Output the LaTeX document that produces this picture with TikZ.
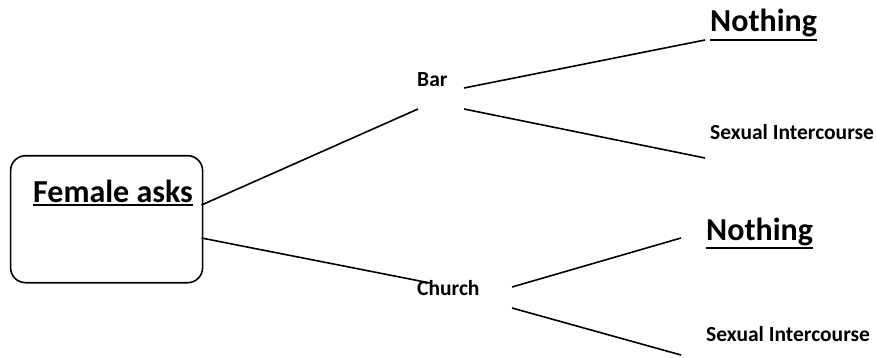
\documentclass[tikz,border=0pt]{standalone}
\usepackage{fontspec}
\setmainfont{Carlito}
\newcommand\myul[1]{\leavevmode\vtop{\hbox{#1}\kern1.5pt\hrule height 2.4pt}}
\begin{document}
\begin{tikzpicture}[x=1pt,y=1pt,
  lbl/.style={inner sep=0pt,anchor=base west,font=\bfseries\fontsize{21.5}{23}\selectfont},
  big/.style={inner sep=0pt,anchor=base west,font=\bfseries\fontsize{32}{34}\selectfont},
  conn/.style={line width=1.6pt,black}]
\useasboundingbox (0,0) rectangle (876,357);
\node[draw,line width=1.6pt,rounded corners=15pt,minimum width=192pt,minimum height=127pt,anchor=south west,inner sep=0pt] (box) at (9.8,73.5) {};
\node[big] (fa) at (33,155) {\myul{Female asks}};
\node[lbl] (bar) at (417,270) {Bar};
\node[lbl] (church) at (417,62) {Church};
\node[big] (n1) at (710,325) {\myul{Nothing}};
\node[lbl] (s1) at (710,218) {Sexual Intercourse};
\node[big] (n2) at (706,117) {\myul{Nothing}};
\node[lbl] (s2) at (706,16) {Sexual Intercourse};
% connector endpoints
\coordinate (bA) at (201.5,152);
\coordinate (bB) at (201.5,119);
\coordinate (barIn) at (418,248);
\coordinate (barO1) at (464,269);
\coordinate (barO2) at (464,248);
\coordinate (n1In) at (705,317);
\coordinate (s1In) at (705,199);
\coordinate (chIn) at (430,74);
\coordinate (chO1) at (512,70);
\coordinate (chO2) at (512,49);
\coordinate (n2In) at (681,119);
\coordinate (s2In) at (681,2);
\draw[conn] (bA) -- (barIn);
\draw[conn] (bB) -- (chIn);
\draw[conn] (barO1) -- (n1In);
\draw[conn] (barO2) -- (s1In);
\draw[conn] (chO1) -- (n2In);
\draw[conn] (chO2) -- (s2In);
\end{tikzpicture}
\end{document}
